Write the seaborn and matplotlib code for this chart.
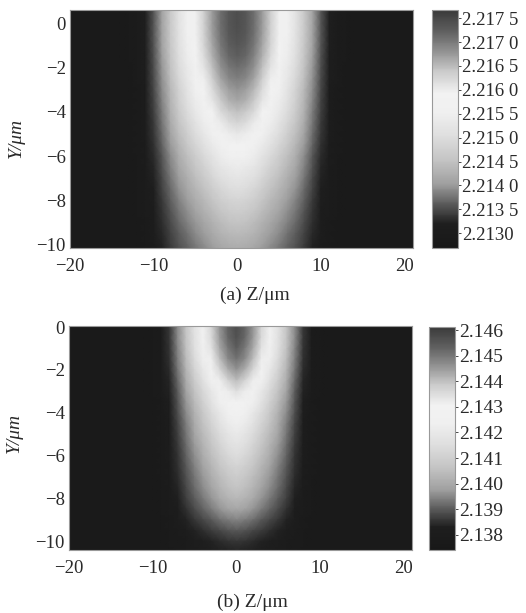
import numpy as np
import seaborn as sns
import matplotlib.pyplot as plt
from matplotlib.colors import LinearSegmentedColormap

# sample positions (um): columns along Z (1 um apart), rows along Y (0.5 um apart)
z_um = list(range(-20, 22))
y_um = [1, 0.5, 0, -0.5, -1, -1.5, -2, -2.5, -3, -3.5, -4, -4.5, -5, -5.5, -6, -6.5,
        -7, -7.5, -8, -8.5, -9, -9.5, -10, -10.5, -11]

# relative index change across Z at the surface
z_profile_a = [0, 0, 0, 0, 0, 0, 0.005, 0.015, 0.035, 0.08, 0.16, 0.27, 0.39, 0.50,
               0.59, 0.68, 0.76, 0.85, 0.93, 0.98, 1.00, 0.98, 0.93, 0.85, 0.76, 0.68,
               0.59, 0.50, 0.39, 0.27, 0.16, 0.08, 0.035, 0.015, 0.005, 0, 0, 0, 0, 0, 0, 0]
z_profile_b = [0, 0, 0, 0, 0, 0, 0, 0, 0, 0.005, 0.015, 0.04, 0.11, 0.23, 0.37, 0.50, 0.62,
               0.74, 0.86, 0.95, 1.00, 0.95, 0.86, 0.74, 0.62, 0.50, 0.37, 0.23, 0.11, 0.04,
               0.015, 0.005, 0, 0, 0, 0, 0, 0, 0, 0, 0, 0]

# relative index change with depth at Z = 0
y_profile_a = [1.00, 1.00, 1.00, 0.995, 0.98, 0.96, 0.93, 0.90, 0.86, 0.83, 0.79, 0.745, 0.70,
               0.65, 0.60, 0.56, 0.52, 0.48, 0.44, 0.405, 0.37, 0.34, 0.31, 0.285, 0.26]
y_profile_b = [1.00, 1.00, 1.00, 0.99, 0.96, 0.92, 0.86, 0.79, 0.72, 0.67, 0.62, 0.58, 0.54,
               0.505, 0.47, 0.435, 0.40, 0.37, 0.33, 0.28, 0.22, 0.16, 0.11, 0.08, 0.05]

# substrate index and peak index change
n_sub_a, dn_a = 2.21284, 0.00458
n_sub_b, dn_b = 2.1377, 0.0080

# colorbar ticks
cbar_ticks_a = [2.2130, 2.2135, 2.2140, 2.2145, 2.2150, 2.2155, 2.2160, 2.2165, 2.2170, 2.2175]
cbar_labels_a = ['2.2130', '2.213 5', '2.214 0', '2.214 5', '2.215 0', '2.215 5',
                 '2.216 0', '2.216 5', '2.217 0', '2.217 5']
cbar_ticks_b = [2.138, 2.139, 2.140, 2.141, 2.142, 2.143, 2.144, 2.145, 2.146]
cbar_labels_b = ['2.138', '2.139', '2.140', '2.141', '2.142', '2.143', '2.144', '2.145', '2.146']

z_ticks = [-20, -10, 0, 10, 20]
y_ticks = [0, -2, -4, -6, -8, -10]

sns.set_style('white')
plt.rcParams['font.family'] = ['Liberation Serif', 'DejaVu Serif']
plt.rcParams['font.size'] = 13

# black -> white -> dark grey, as in the original colorbars
cmap = LinearSegmentedColormap.from_list('bwd', [
    (0.00, '#181818'), (0.10, '#1e1e1e'), (0.18, '#585858'), (0.27, '#a0a0a0'),
    (0.37, '#c4c4c4'), (0.47, '#dedede'), (0.57, '#f0f0f0'), (0.65, '#f2f2f2'),
    (0.74, '#cccccc'), (0.83, '#909090'), (0.91, '#606060'), (1.00, '#3a3a3a')])

fig = plt.figure(figsize=(5.26, 6.13), dpi=100)
txt = '#2a2a2a'
dz = z_um[1] - z_um[0]
dy = y_um[0] - y_um[1]


def zpos(z):
    return (z - z_um[0]) / dz


def ypos(y):
    return (y_um[0] - y) / dy


def panel(rect, crect, z_prof, y_prof, n_sub, dn, vmin, vmax, ylim, ticks, labels, cb_size,
          tag, xlab_xy, ylab_xy):
    ax = fig.add_axes(rect)
    cax = fig.add_axes(crect)
    field = n_sub + dn * np.outer(y_prof, z_prof)
    sns.heatmap(field, ax=ax, cbar_ax=cax, cmap=cmap, vmin=vmin, vmax=vmax,
                shading='gouraud', xticklabels=False, yticklabels=False)
    # gouraud nodes sit at integer (column, row) positions
    ax.set_xlim(0, len(z_um) - 1)
    ax.set_ylim(ypos(ylim[0]), ypos(ylim[1]))
    ax.set_xticks([zpos(z) for z in z_ticks])
    ax.set_xticklabels([str(z).replace('-', '\u2212') for z in z_ticks])
    ax.set_yticks([ypos(y) for y in y_ticks])
    ax.set_yticklabels([str(y).replace('-', '\u2212') for y in y_ticks])
    ax.tick_params(length=0, labelsize=13.5, colors=txt)
    ax.tick_params(axis='x', pad=7)
    ax.tick_params(axis='y', pad=3)
    for s in ax.spines.values():
        s.set_visible(True)
        s.set_color('#999999')
        s.set_linewidth(0.8)
    ax.set_xlabel(f'({tag}) Z/\u03bcm', fontsize=14, color=txt)
    ax.xaxis.set_label_coords(*xlab_xy)
    ax.set_ylabel('Y/\u03bcm', fontsize=14, color=txt, fontstyle='italic')
    ax.yaxis.set_label_coords(*ylab_xy)

    cbar = ax.collections[0].colorbar
    cbar.set_ticks(ticks)
    cbar.set_ticklabels(labels)
    cax.tick_params(length=2, pad=1, labelsize=cb_size, colors=txt, width=0.6)
    cbar.outline.set_edgecolor('#999999')
    cbar.outline.set_linewidth(0.8)


panel([0.1331, 0.5954, 0.6521, 0.3883], [0.8213, 0.5954, 0.0494, 0.3883],
      z_profile_a, y_profile_a, n_sub_a, dn_a, 2.21269, 2.21767, (-10.15, 0.6),
      cbar_ticks_a, cbar_labels_a, 13.5, 'a', (0.539, -0.164), (-0.131, 0.462))
panel([0.1312, 0.1028, 0.6521, 0.3654], [0.8156, 0.1028, 0.0494, 0.3638],
      z_profile_b, y_profile_b, n_sub_b, dn_b, 2.13741, 2.14612, (-10.4, 0.05),
      cbar_ticks_b, cbar_labels_b, 14, 'b', (0.536, -0.196), (-0.134, 0.522))

plt.savefig('out.png', dpi=100)
